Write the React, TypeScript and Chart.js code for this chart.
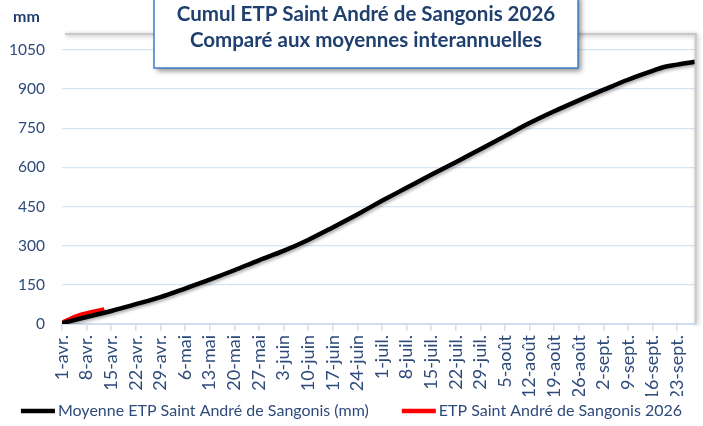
import React, { useEffect, useRef } from "react";
import { Chart, registerables } from "chart.js";

Chart.register(...registerables);

// ---- data ----
const tickDays = [0, 7, 14, 21, 28, 35, 42, 49, 56, 63, 70, 77, 84, 91, 98, 105, 112, 119, 126, 133, 140, 147, 154, 161, 168, 175];
const tickLabels = [
  "1-avr.", "8-avr.", "15-avr.", "22-avr.", "29-avr.",
  "6-mai", "13-mai", "20-mai", "27-mai",
  "3-juin", "10-juin", "17-juin", "24-juin",
  "1-juil.", "8-juil.", "15-juil.", "22-juil.", "29-juil.",
  "5-août", "12-août", "19-août", "26-août",
  "2-sept.", "9-sept.", "16-sept.", "23-sept.",
];
const yTicks = [0, 150, 300, 450, 600, 750, 900, 1050];

const meanDays = [0, 7, 14, 21, 28, 35, 42, 49, 56, 63, 70, 77, 84, 91, 98, 105, 112, 119, 126, 133, 140, 147, 154, 161, 168, 171, 175, 180];
const meanValues = [3, 27, 50, 76, 103, 136, 170, 206, 244, 280, 322, 370, 420, 472, 522, 572, 620, 670, 720, 770, 815, 857, 897, 936, 970, 984, 994, 1005];

const yearDays = [0, 1, 3, 5, 8, 10, 12];
const yearValues = [5, 12, 25, 35, 45, 51, 57];

const meanLabel = "Moyenne ETP Saint André de Sangonis (mm)";
const yearLabel = "ETP Saint André de Sangonis 2026";
const titleLines = ["Cumul ETP Saint André de Sangonis 2026", "Comparé aux moyennes interannuelles"];
const unitLabel = "mm";

const FONT = "Lato";
const TEXT = "#2E4B7A";
const TITLE = "#1F3F6E";

const lineShadow = {
  id: "lineShadow",
  beforeDatasetDraw(chart: any) {
    const ctx = chart.ctx;
    ctx.save();
    ctx.shadowColor = "rgba(0,0,0,0.3)";
    ctx.shadowOffsetX = 1.5;
    ctx.shadowOffsetY = 2;
    ctx.shadowBlur = 3;
  },
  afterDatasetDraw(chart: any) {
    chart.ctx.restore();
  },
};

const decor = {
  id: "decor",
  afterDraw(chart: any) {
    const ctx = chart.ctx as CanvasRenderingContext2D;
    const ca = chart.chartArea;
    // plot frame (top + right) with shadow
    ctx.save();
    ctx.strokeStyle = "#C8C8C8";
    ctx.lineWidth = 2;
    ctx.shadowColor = "rgba(0,0,0,0.35)";
    ctx.shadowBlur = 4;
    ctx.shadowOffsetX = 1;
    ctx.shadowOffsetY = 1;
    ctx.beginPath();
    ctx.moveTo(65, 34);
    ctx.lineTo(ca.right + 1, 34);
    ctx.lineTo(ca.right + 1, ca.bottom);
    ctx.stroke();
    ctx.restore();

    // unit label
    ctx.save();
    ctx.fillStyle = TITLE;
    ctx.font = `bold 16px ${FONT}`;
    ctx.textAlign = "left";
    ctx.textBaseline = "alphabetic";
    ctx.fillText(unitLabel, 13, 22);
    ctx.restore();

    // title box
    ctx.save();
    ctx.shadowColor = "rgba(0,0,0,0.45)";
    ctx.shadowBlur = 5;
    ctx.shadowOffsetX = 3;
    ctx.shadowOffsetY = 3;
    ctx.fillStyle = "#FFFFFF";
    ctx.fillRect(154, -5, 424, 73);
    ctx.restore();
    ctx.save();
    ctx.strokeStyle = "#3B7DC9";
    ctx.lineWidth = 1.5;
    ctx.strokeRect(154, -5, 424, 73);
    ctx.fillStyle = TITLE;
    ctx.font = `bold 20.5px ${FONT}`;
    ctx.textAlign = "center";
    ctx.textBaseline = "alphabetic";
    ctx.fillText(titleLines[0], 366, 21);
    ctx.fillText(titleLines[1], 366, 47);
    ctx.restore();

    // legend
    ctx.save();
    ctx.font = `16px ${FONT}`;
    const ds = chart.data.datasets;
    const sample = 34, gap = 3, itemGap = 33;
    const w1 = ctx.measureText(ds[0].label).width;
    const w2 = ctx.measureText(ds[1].label).width;
    const total = sample + gap + w1 + itemGap + sample + gap + w2;
    let x = (chart.width - total) / 2;
    const y = 411;
    const items = [ [ds[0], w1], [ds[1], w2] ];
    for (const [d, w] of items as any) {
      ctx.strokeStyle = d.borderColor;
      ctx.lineWidth = 4.5;
      ctx.lineCap = "butt";
      ctx.beginPath();
      ctx.moveTo(x, y);
      ctx.lineTo(x + sample, y);
      ctx.stroke();
      ctx.fillStyle = TEXT;
      ctx.textAlign = "left";
      ctx.textBaseline = "middle";
      ctx.fillText(d.label, x + sample + gap, y);
      x += sample + gap + w + itemGap;
    }
    ctx.restore();
  },
};

export default function App() {
  const ref = useRef<HTMLCanvasElement | null>(null);
  useEffect(() => {
    if (!ref.current) return;
    const chart = new Chart(ref.current, {
      type: "line",
      data: {
        datasets: [
          {
            label: meanLabel,
            data: meanDays.map((d, i) => ({ x: d, y: meanValues[i] })),
            borderColor: "#000000",
            backgroundColor: "#000000",
            borderWidth: 4.5,
            pointRadius: 0,
            cubicInterpolationMode: "monotone",
            fill: false,
          },
          {
            label: yearLabel,
            data: yearDays.map((d, i) => ({ x: d, y: yearValues[i] })),
            borderColor: "#FF0000",
            backgroundColor: "#FF0000",
            borderWidth: 4,
            pointRadius: 0,
            cubicInterpolationMode: "monotone",
            fill: false,
          },
        ],
      },
      options: {
        animation: false,
        responsive: false,
        devicePixelRatio: 1,
        layout: { padding: { top: 50, right: 6, bottom: 30, left: 0 } },
        plugins: {
          legend: { display: false },
          title: { display: false },
          tooltip: { enabled: false },
        },
        scales: {
          x: {
            type: "linear",
            min: 0,
            max: 180,
            afterBuildTicks(scale: any) {
              scale.ticks = tickDays.map((v) => ({ value: v }));
            },
            afterFit(scale: any) {
              scale.height = 72;
            },
            ticks: {
              autoSkip: false,
              maxRotation: 90,
              minRotation: 90,
              padding: 4,
              color: TEXT,
              font: { family: FONT, size: 18 },
              callback: (_v: any, i: number) => tickLabels[i],
            },
            grid: {
              drawOnChartArea: false,
              drawTicks: true,
              tickLength: 7,
              color: "#D0DEF0",
              lineWidth: 1.5,
            },
            border: { display: true, color: "#D0DEF0", width: 2 },
          },
          y: {
            min: 0,
            max: 1050,
            afterBuildTicks(scale: any) {
              scale.ticks = yTicks.map((v) => ({ value: v }));
            },
            afterFit(scale: any) {
              scale.width = 62;
            },
            ticks: {
              padding: 17,
              color: TEXT,
              font: { family: FONT, size: 15.5 },
              callback: (v: any) => String(v),
            },
            grid: {
              drawTicks: false,
              color: "#D6E4F5",
              lineWidth: 1.3,
            },
            border: { display: false },
          },
        },
      },
      plugins: [lineShadow, decor],
    } as any);
    return () => chart.destroy();
  }, []);
  return (
    <div style={{ position: "fixed", left: 0, top: 0, width: 703, height: 426, background: "#fff" }}>
      <canvas ref={ref} width={703} height={426} style={{ width: 703, height: 426, display: "block" }} />
    </div>
  );
}
